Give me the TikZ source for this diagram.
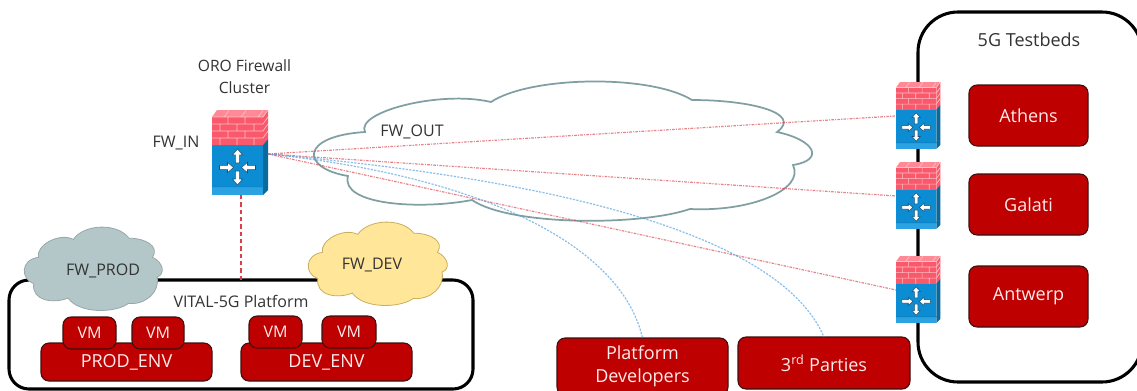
\documentclass[tikz,border=0pt]{standalone}
\usepackage{fontspec}
\setmainfont{Open Sans}
\definecolor{boxred}{HTML}{BE0000}
\definecolor{boxedge}{HTML}{3A1010}
\definecolor{txt}{HTML}{333333}
\definecolor{linkred}{HTML}{D9404A}
\definecolor{linkblue}{HTML}{5AA5E0}
\definecolor{cloudedge}{HTML}{7F9FA3}
\definecolor{prodfill}{HTML}{B3C6C8}
\definecolor{devfill}{HTML}{FFE699}
\definecolor{devedge}{HTML}{C9AE5E}
\definecolor{brick}{HTML}{F9596B}
\definecolor{bricktop}{HTML}{FF8A96}
\definecolor{mortar}{HTML}{FFC0C6}
\definecolor{fwblue}{HTML}{0C8CD2}
\definecolor{fwside}{HTML}{0A6A9E}
\definecolor{fwstripe}{HTML}{2BA3E3}
\definecolor{arrowedge}{HTML}{1F4E6E}
\tikzset{
  redbox/.style={draw=boxedge,line width=.8pt,fill=boxred,rounded corners=6pt,inner sep=0pt,outer sep=0pt,text=white!92!red,align=center,font=\fontsize{13.5}{17}\selectfont},
  vmbox/.style={redbox,font=\fontsize{12}{14}\selectfont},
  framebox/.style={draw=black,line width=2.3pt,inner sep=0pt,outer sep=0pt},
  label/.style={text=txt,align=center,inner sep=0pt,font=\fontsize{12}{17}\selectfont},
  biglabel/.style={label,font=\fontsize{13.5}{17}\selectfont},
  redlink/.style={draw=linkred,line width=.9pt,opacity=.65,dash pattern=on 2pt off .9pt on .8pt off .9pt},
  bluelink/.style={draw=linkblue,line width=.9pt,opacity=.7,dash pattern=on 1.6pt off 1pt},
  reddash/.style={draw=linkred,line width=1.1pt,dash pattern=on 3.2pt off 2.3pt},
  cloudout/.style={draw=cloudedge,line width=1.3pt,fill=white},
  cloudprod/.style={draw=prodfill!85!black,line width=.6pt,fill=prodfill},
  clouddev/.style={draw=devedge,line width=.6pt,fill=devfill},
}
% box from corners: name, x1,y1,x2,y2, style, text
\newcommand{\cornerbox}[7]{%
  \node[#6,minimum width={(#4-#2)*.75pt},minimum height={(#5-#3)*.75pt}] (#1) at ({(#2+#4)/2},{(#3+#5)/2}) {#7};}
% cloud outline in the pixel frame of the large cloud
\newcommand{\cloudoutline}[1]{%
  \path[#1] (365,132)
   .. controls (355,112) and (440,90) .. (491,102)
   .. controls (530,76) and (650,74) .. (692,100)
   .. controls (750,100) and (803,113) .. (777,132)
   .. controls (815,140) and (825,160) .. (793,165)
   .. controls (805,190) and (750,212) .. (690,209)
   .. controls (640,226) and (510,226) .. (472,200)
   .. controls (420,210) and (340,205) .. (348,176)
   .. controls (300,168) and (300,136) .. (365,132) -- cycle;}
% name, left, top, width, height, style
\newcommand{\cloudat}[6]{%
  \begin{scope}[shift={(#2,#3)},xscale=#4/498,yscale=#5/137,shift={(-313,-83)}]
    \cloudoutline{#6}
  \end{scope}
  \coordinate (#1) at ({#2+#4/2},{#3+#5/2});}
\newcommand{\fwarrow}[3]{%
  \begin{scope}[shift={(#1,#2)},rotate=#3]
    \path[fill=white,draw=arrowedge,line width=.4pt] (0,-7.5) -- (5.2,-1.5) -- (2.2,-1.5) -- (2.2,6.5) -- (-2.2,6.5) -- (-2.2,-1.5) -- (-5.2,-1.5) -- cycle;
  \end{scope}}
% name, x, y, scale
\newcommand{\fwicon}[4]{%
  \begin{scope}[shift={(#2,#3)},scale=#4]
    \path[fill=bricktop] (0,7) -- (5,0) -- (56,0) -- (51,7) -- cycle;
    \path[fill=brick] (0,7) rectangle (51,35);
    \path[fill=brick] (51,7) -- (56,0) -- (56,29) -- (51,35) -- cycle;
    \path[fill=fwblue] (0,35) rectangle (51,85);
    \path[fill=fwside] (51,35) -- (56,29) -- (56,80) -- (51,85) -- cycle;
    \path[fill=fwstripe] (0,77) rectangle (51,85);
    \path[draw=fwside!70!fwblue,line width=.3pt] (0,77) -- (51,77) -- (56,72);
    \path[draw=mortar,line width=.5pt]
      (0,7) -- (51,7) -- (56,0) (0,14) -- (51,14) -- (56,7)
      (0,21) -- (51,21) -- (56,14) (0,28) -- (51,28) -- (56,21)
      (17,0.5) -- (12,7) (34,.5) -- (29,7) (51,.5) -- (46,7)
      (16,7) -- (16,14) (33,7) -- (33,14)
      (8,14) -- (8,21) (25,14) -- (25,21) (42,14) -- (42,21)
      (16,21) -- (16,28) (33,21) -- (33,28)
      (8,28) -- (8,35) (25,28) -- (25,35) (42,28) -- (42,35);
    \fwarrow{25.5}{46.5}{0}
    \fwarrow{25.5}{67.5}{180}
    \fwarrow{14}{57.5}{270}
    \fwarrow{37}{57.5}{90}
    \coordinate (#1e) at (56,44);
    \coordinate (#1w) at (0,43);
    \coordinate (#1s) at (29,85);
  \end{scope}}
\begin{document}
\begin{tikzpicture}[x=.75pt,y=-.75pt]
  \clip (0,0) rectangle (1137,390);
  \path[fill=white] (0,0) rectangle (1137,390);
  % frames
  \cornerbox{testbeds}{918}{12}{1142}{382}{framebox,rounded corners=30pt}{}
  \cornerbox{platform}{9}{280}{473}{389}{framebox,rounded corners=15pt}{}
  % clouds
  \cloudat{fwout}{313}{83}{498}{137}{cloudout}
  \cloudat{fwprod}{24}{228}{138}{82}{cloudprod}
  \cloudat{fwdev}{308}{223}{139}{82}{clouddev}
  % boxes
  \cornerbox{prodenv}{41}{343}{212}{381}{redbox}{PROD\_ENV}
  \cornerbox{devenv}{241}{343}{412}{381}{redbox}{DEV\_ENV}
  \cornerbox{vma}{63}{317}{116}{349}{vmbox}{VM}
  \cornerbox{vmb}{132}{317}{184}{349}{vmbox}{VM}
  \cornerbox{vmc}{249}{316}{302}{348}{vmbox}{VM}
  \cornerbox{vmd}{322}{316}{376}{348}{vmbox}{VM}
  \cornerbox{athens}{969}{85}{1088}{146}{redbox}{Athens}
  \cornerbox{galati}{969}{174}{1088}{235}{redbox}{Galati}
  \cornerbox{antwerp}{969}{266}{1088}{327}{redbox}{Antwerp}
  \cornerbox{devs}{557}{338}{728}{395}{redbox}{Platform\\Developers}
  \cornerbox{third}{738}{337}{910}{389}{redbox}{3\textsuperscript{rd} Parties}
  % firewalls
  \fwicon{fwin}{212}{110}{1}
  \fwicon{fwa}{896}{82}{.79}
  \fwicon{fwg}{896}{162}{.79}
  \fwicon{fwt}{896}{256}{.79}
  % connectors
  \draw[reddash] (fwins) -- (platform.north -| fwins);
  \draw[redlink] (fwine) -- (fwaw);
  \draw[redlink] (fwine) -- (fwgw);
  \draw[redlink] (fwine) -- (fwtw);
  \draw[bluelink] (fwine) .. controls (470,175) and (620,240) .. (devs.north);
  \draw[bluelink] (fwine) .. controls (560,180) and (780,235) .. (third.north);
  % labels
  \node[label,font=\fontsize{11.7}{17}\selectfont] (orolabel) at (244.5,76.5) {ORO Firewall\\Cluster};
  \node[label] (fwinlabel) at (176,143) {FW\_IN};
  \node[label] (fwoutlabel) at (412,132) {FW\_OUT};
  \node[label] (fwprodlabel) at (103,271) {FW\_PROD};
  \node[label] (fwdevlabel) at (372,265) {FW\_DEV};
  \node[label] (vitallabel) at (241,301) {VITAL-5G Platform};
  \node[biglabel] (testbedlabel) at (1029,40) {5G Testbeds};
\end{tikzpicture}
\end{document}
